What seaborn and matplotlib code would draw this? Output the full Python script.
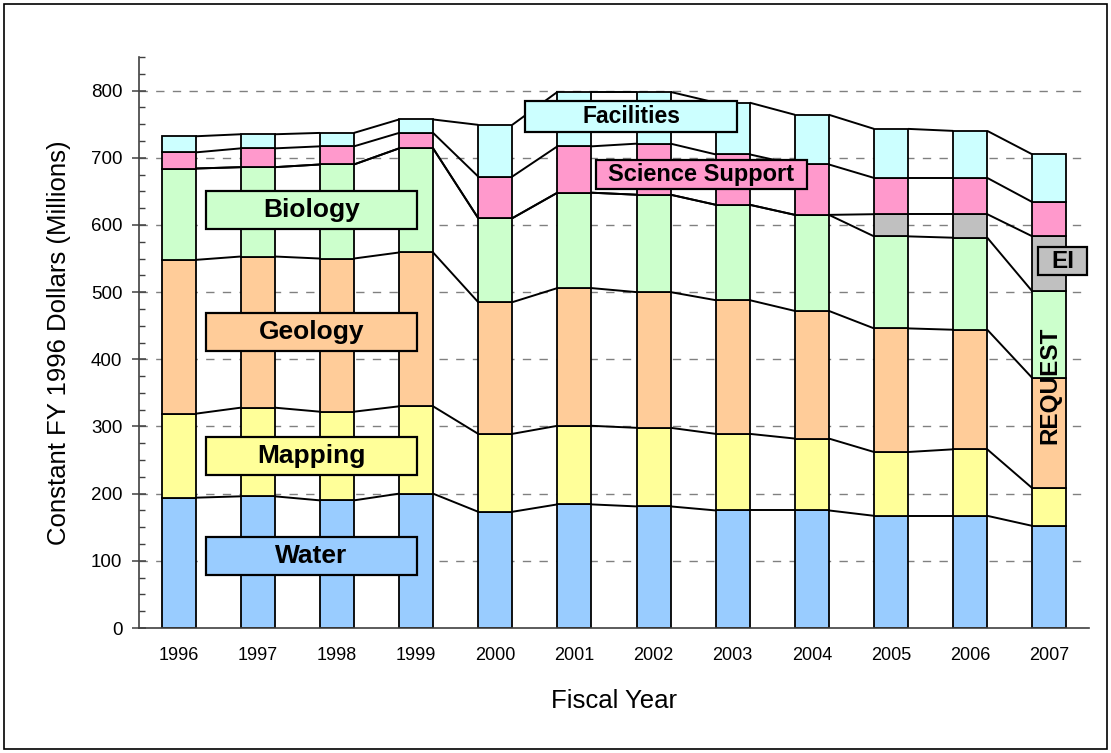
import numpy as np
import pandas as pd
import matplotlib
matplotlib.use('Agg')
import matplotlib.pyplot as plt
import matplotlib.patches as mpatches
from matplotlib.ticker import MultipleLocator, FixedLocator
import seaborn as sns

# 数据（按图读取，单位：百万美元，1996年不变价）
years = ['1996', '1997', '1998', '1999', '2000', '2001', '2002', '2003', '2004', '2005', '2006', '2007']
water = [194, 196, 190, 200, 173, 184, 181, 175, 175, 167, 167, 152]
mapping = [125, 132, 132, 130, 116, 117, 117, 114, 107, 95, 99, 56]
geology = [229, 225, 228, 229, 196, 205, 202, 199, 190, 184, 178, 164]
biology = [136, 133, 140, 155, 125, 142, 145, 142, 143, 137, 137, 129]
ei = [0, 0, 0, 0, 0, 0, 0, 0, 0, 33, 35, 82]
science_support = [24, 28, 27, 23, 62, 69, 76, 75, 75, 54, 54, 51]
facilities = [24, 21, 20, 20, 77, 81, 77, 77, 74, 73, 70, 71]

layer_names = ['Water', 'Mapping', 'Geology', 'Biology', 'EI', 'Science Support', 'Facilities']
layer_values = [water, mapping, geology, biology, ei, science_support, facilities]
layer_colors = ['#99CCFF', '#FFFF99', '#FFCC99', '#CCFFCC', '#C0C0C0', '#FF99CC', '#CCFFFF']

sns.set_style('white')
plt.rcParams['font.family'] = ['Liberation Sans', 'DejaVu Sans']
plt.rcParams['text.color'] = 'black'
plt.rcParams['axes.labelcolor'] = 'black'
plt.rcParams['xtick.color'] = 'black'
plt.rcParams['ytick.color'] = 'black'

fig = plt.figure(figsize=(11.11, 7.53), dpi=100)
ax = fig.add_axes([0.1251, 0.166, 0.8551, 0.7583])

bar_w = 0.43
bottom = np.zeros(len(years))
tops = []
for name, vals, col in zip(layer_names, layer_values, layer_colors):
    df = pd.DataFrame({'年份': years, '值': vals})
    sns.barplot(data=df, x='年份', y='值', bottom=bottom, color=col, width=bar_w,
                edgecolor='black', linewidth=1.3, saturation=1, errorbar=None,
                ax=ax, zorder=2)
    bottom = bottom + np.array(vals)
    tops.append(bottom.copy())

# 相邻柱之间的连接线
xs = np.arange(len(years))
for top in tops:
    for i in range(len(years) - 1):
        ax.plot([xs[i] + bar_w / 2, xs[i + 1] - bar_w / 2], [top[i], top[i + 1]],
                color='black', lw=1.4, zorder=3, solid_capstyle='butt')

ax.set_xlim(-0.5, len(years) - 0.5)
ax.set_ylim(0, 850)
ax.yaxis.set_major_locator(FixedLocator(np.arange(0, 801, 100)))
ax.yaxis.set_minor_locator(MultipleLocator(25))
ax.xaxis.set_minor_locator(FixedLocator(np.arange(-0.5, len(years), 1)))
ax.set_axisbelow(True)
ax.grid(axis='y', which='major', linestyle=(0, (6, 6)), color='#808080', lw=1.0, zorder=0)
ax.grid(axis='x', visible=False)
for yl in ax.get_ygridlines():
    if yl.get_ydata()[0] == 0:
        yl.set_visible(False)

for s in ['top', 'right']:
    ax.spines[s].set_visible(False)
for s in ['left', 'bottom']:
    ax.spines[s].set_color('#404040')
    ax.spines[s].set_linewidth(1.2)

ax.tick_params(axis='x', which='major', length=0, pad=14, labelsize=13)
ax.tick_params(axis='x', which='minor', length=6, direction='out', color='#404040', width=1.1)
ax.tick_params(axis='y', which='major', length=10, direction='inout', color='#404040', width=1.1,
               pad=7, labelsize=13.5, left=True)
ax.tick_params(axis='y', which='minor', length=4, direction='in', color='#404040', width=1.0, left=True)

ax.set_xlabel('Fiscal Year', fontsize=18.5, labelpad=18)
ax.set_ylabel('Constant FY 1996 Dollars (Millions)', fontsize=18.5, labelpad=14)

# 标签框
label_boxes = [
    ('Water', 0.346, 3.01, 79.0, 135.0, '#99CCFF', 19),
    ('Mapping', 0.346, 3.01, 228.5, 284.5, '#FFFF99', 19),
    ('Geology', 0.346, 3.01, 412.0, 468.5, '#FFCC99', 19),
    ('Biology', 0.346, 3.01, 593.5, 650.0, '#CCFFCC', 19),
    ('Facilities', 4.378, 7.055, 739.0, 784.0, '#CCFFFF', 16.5),
    ('Science Support', 5.27, 7.94, 653.2, 697.4, '#FF99CC', 17),
    ('EI', 10.86, 11.48, 525.0, 567.6, '#C0C0C0', 17.5),
]
for txt, x0, x1, y0, y1, col, fs in label_boxes:
    ax.add_patch(mpatches.Rectangle((x0, y0), x1 - x0, y1 - y0, facecolor=col,
                                    edgecolor='black', lw=1.6, zorder=5, clip_on=False))
    ax.text((x0 + x1) / 2, (y0 + y1) / 2, txt, ha='center', va='center', fontsize=fs,
            fontweight='bold', zorder=6)

ax.text(11.0, 361, 'REQUEST', rotation=90, ha='center', va='center', fontsize=17.5,
        fontweight='bold', zorder=6)

# 外框
fig.patches.append(mpatches.Rectangle((0.004, 0.005), 0.992, 0.99, transform=fig.transFigure,
                                      fill=False, edgecolor='black', lw=1.2))

fig.savefig('out.png', dpi=100)
